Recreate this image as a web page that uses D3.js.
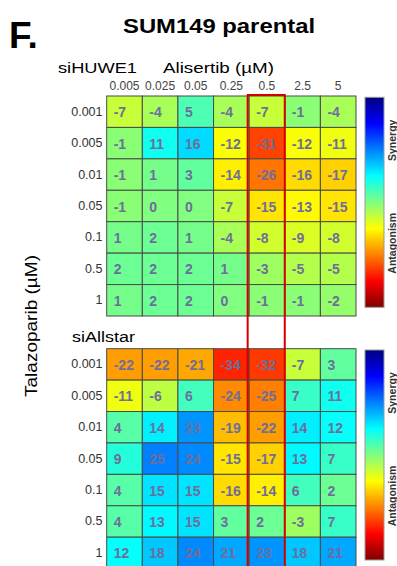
<!DOCTYPE html>
<html>
<head>
<meta charset="utf-8">
<script src="https://cdn.jsdelivr.net/npm/d3@7"></script>
<style>
  body { margin: 0; background: #fff; }
  text { font-family: "Liberation Sans", Arial, sans-serif; }
</style>
</head>
<body>
<div id="chart"></div>
<script>
// Alisertib doses (columns) and Talazoparib doses (rows)
let alisertib = ['0.005', '0.025', '0.05', '0.25', '0.5', '2.5', '5'];
let talazoparib = ['0.001', '0.005', '0.01', '0.05', '0.1', '0.5', '1'];

// synergy scores, one row per talazoparib dose
let siHUWE1 = [
  [-7, -4, 5, -4, -7, -1, -4],
  [-1, 11, 16, -12, -31, -12, -11],
  [-1, 1, 3, -14, -26, -16, -17],
  [-1, 0, 0, -7, -15, -13, -15],
  [1, 2, 1, -4, -8, -9, -8],
  [2, 2, 2, 1, -3, -5, -5],
  [1, 2, 2, 0, -1, -1, -2]
];
let siAllstar = [
  [-22, -22, -21, -34, -32, -7, 3],
  [-11, -6, 6, -24, -25, 7, 11],
  [4, 14, 23, -19, -22, 14, 12],
  [9, 25, 24, -15, -17, 13, 7],
  [4, 15, 15, -16, -14, 6, 2],
  [4, 13, 15, 3, 2, -3, 7],
  [12, 18, 24, 21, 23, 18, 21]
];
let highlightDose = '0.5';

let width = 397, height = 566;
let svg = d3.select('#chart').append('svg').attr('width', width).attr('height', height);

//matlab style jet, u=0 dark blue ... u=1 dark red
function jet(u) {
  let c = v => Math.max(0, Math.min(1, v));
  let r = c(1.5 - Math.abs(4 * u - 3)), g = c(1.5 - Math.abs(4 * u - 2)), b = c(1.5 - Math.abs(4 * u - 1));
  return d3.rgb(r * 255, g * 255, b * 255).toString();
}
// positive (synergy) -> blue, negative (antagonism) -> red
let toJet = d3.scaleLinear().domain([50, -50]).range([0, 1]).clamp(true);
let color = v => jet(toJet(v));

let x = d3.scaleBand().domain(alisertib).range([106.7, 356]);
let panels = [
  {name: 'siHUWE1', data: siHUWE1, y: d3.scaleBand().domain(talazoparib).range([96, 316]), nameX: 58, nameW: 79},
  {name: 'siAllstar', data: siAllstar, y: d3.scaleBand().domain(talazoparib).range([348.7, 568.6]), nameX: 72, nameW: 63}
];

// colorbar gradient
let defs = svg.append('defs');
let grad = defs.append('linearGradient').attr('id', 'jetgrad').attr('x1', 0).attr('x2', 0).attr('y1', 0).attr('y2', 1);
d3.range(0, 1.0001, 0.0625).forEach(u => {
  grad.append('stop').attr('offset', u).attr('stop-color', jet(u));
});

//Title and panel letter
svg.append('text').attr('x', 9).attr('y', 48).attr('font-size', 37).attr('font-weight', 'bold').text('F.');
svg.append('text').attr('x', 123).attr('y', 33).attr('font-size', 21).attr('font-weight', 'bold')
  .attr('textLength', 192).attr('lengthAdjust', 'spacingAndGlyphs').text('SUM149 parental');
svg.append('text').attr('x', 163).attr('y', 72.5).attr('font-size', 15.5)
  .attr('textLength', 111).attr('lengthAdjust', 'spacingAndGlyphs').text('Alisertib (µM)');

//Column dose labels
svg.append('g').selectAll('text').data(alisertib).enter().append('text')
  .attr('x', d => x(d) + x.bandwidth() / 2).attr('y', 90)
  .attr('text-anchor', 'middle').attr('font-size', 12).attr('fill', '#444').text(d => d);

//Y label
svg.append('text').attr('transform', 'translate(37,326) rotate(-90)')
  .attr('text-anchor', 'middle').attr('font-size', 16.5)
  .attr('textLength', 142).attr('lengthAdjust', 'spacingAndGlyphs').text('Talazoparib (µM)');

panels.forEach(p => {
  let y = p.y;
  svg.append('text').attr('x', p.nameX).attr('y', p.name === 'siHUWE1' ? 72.5 : 341.5).attr('font-size', 15.5)
    .attr('textLength', p.nameW).attr('lengthAdjust', 'spacingAndGlyphs').text(p.name);

  //Row labels
  svg.append('g').selectAll('text').data(talazoparib).enter().append('text')
    .attr('x', 102.5).attr('y', d => y(d) + y.bandwidth() / 2 + 4)
    .attr('text-anchor', 'end').attr('font-size', 12.5).attr('fill', '#333').text(d => d);

  //Flatten cells
  let cells = [];
  p.data.forEach((row, i) => row.forEach((v, j) => cells.push({r: talazoparib[i], c: alisertib[j], v: v})));

  let g = svg.append('g');
  g.selectAll('rect').data(cells).enter().append('rect')
    .attr('x', d => x(d.c)).attr('y', d => y(d.r))
    .attr('width', x.bandwidth()).attr('height', y.bandwidth())
    .attr('fill', d => color(d.v)).attr('stroke', '#4a4a4a').attr('stroke-width', 1);
  g.selectAll('text').data(cells).enter().append('text')
    .attr('x', d => x(d.c) + 7).attr('y', d => y(d.r) + y.bandwidth() / 2 + 5.5)
    .attr('font-size', 14).attr('font-weight', 'bold').attr('fill', '#6e6e9c').text(d => d.v);

  //Colorbar
  let top = y.range()[0] + 1.3;
  let cb = svg.append('g');
  cb.append('rect').attr('x', 365).attr('y', top).attr('width', 19).attr('height', 210)
    .attr('fill', 'url(#jetgrad)').attr('stroke', '#999').attr('stroke-width', 1);
  cb.append('text').attr('transform', 'translate(396,' + (top + 43) + ') rotate(-90)')
    .attr('text-anchor', 'middle').attr('font-size', 10.5).attr('font-weight', 'bold').attr('fill', '#333').text('Synergy');
  cb.append('text').attr('transform', 'translate(396,' + (top + 146) + ') rotate(-90)')
    .attr('text-anchor', 'middle').attr('font-size', 10.5).attr('font-weight', 'bold').attr('fill', '#333').text('Antagonism');
});

//Highlight box round the 0.5 uM alisertib column across both panels
svg.append('rect')
  .attr('x', x(highlightDose) - 1.5).attr('y', 95)
  .attr('width', x.bandwidth() + 1.5).attr('height', 500)
  .attr('fill', 'none').attr('stroke', '#d40000').attr('stroke-width', 2);
</script>
</body>
</html>
